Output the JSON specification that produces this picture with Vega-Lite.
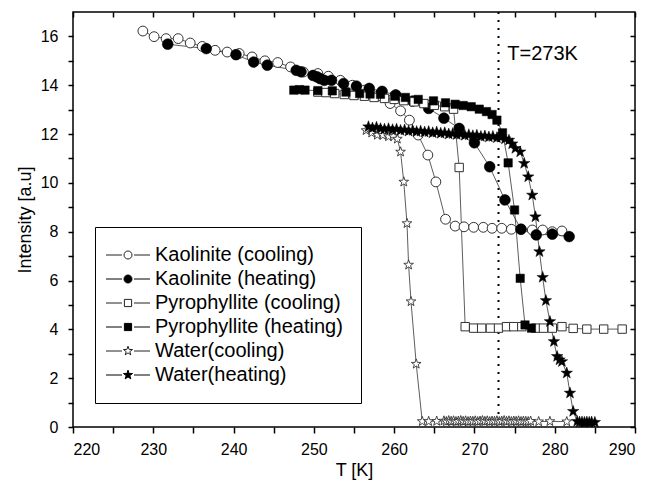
{
  "$schema": "https://vega.github.io/schema/vega-lite/v6.json",
  "width": 562,
  "height": 415,
  "autosize": {"type": "none"},
  "padding": {"left": 73, "top": 12, "right": 15, "bottom": 64},
  "background": "white",
  "config": {
    "font": "Liberation Sans",
    "view": {"stroke": "black", "strokeWidth": 1.5},
    "axis": {"grid": false, "domain": false, "tickColor": "black", "tickWidth": 1.5, "tickSize": 5,
      "labelFont": "Liberation Sans", "labelFontSize": 16, "labelColor": "black",
      "titleFont": "Liberation Sans", "titleFontSize": 18, "titleFontWeight": "normal", "titleColor": "black"}
  },
  "datasets": {
    "d": [
      {"s":"Kaolinite (cooling)","T":228.7,"I":16.22},{"s":"Kaolinite (cooling)","T":230.1,"I":15.99},{"s":"Kaolinite (cooling)","T":231.6,"I":15.91},{"s":"Kaolinite (cooling)","T":233.1,"I":15.91},{"s":"Kaolinite (cooling)","T":234.6,"I":15.73},{"s":"Kaolinite (cooling)","T":236.1,"I":15.59},{"s":"Kaolinite (cooling)","T":237.7,"I":15.43},{"s":"Kaolinite (cooling)","T":239.2,"I":15.36},{"s":"Kaolinite (cooling)","T":240.7,"I":15.30},{"s":"Kaolinite (cooling)","T":242.3,"I":15.16},{"s":"Kaolinite (cooling)","T":243.9,"I":15.00},{"s":"Kaolinite (cooling)","T":245.5,"I":14.93},{"s":"Kaolinite (cooling)","T":247.1,"I":14.75},{"s":"Kaolinite (cooling)","T":248.7,"I":14.54},{"s":"Kaolinite (cooling)","T":250.5,"I":14.48},{"s":"Kaolinite (cooling)","T":251.8,"I":14.37},{"s":"Kaolinite (cooling)","T":253.3,"I":14.2},{"s":"Kaolinite (cooling)","T":254.8,"I":14.0},{"s":"Kaolinite (cooling)","T":256.3,"I":13.8},{"s":"Kaolinite (cooling)","T":257.9,"I":13.55},{"s":"Kaolinite (cooling)","T":259.5,"I":13.25},{"s":"Kaolinite (cooling)","T":260.8,"I":12.95},{"s":"Kaolinite (cooling)","T":261.9,"I":12.57},{"s":"Kaolinite (cooling)","T":263.0,"I":11.96},{"s":"Kaolinite (cooling)","T":264.2,"I":11.14},{"s":"Kaolinite (cooling)","T":265.2,"I":10.04},{"s":"Kaolinite (cooling)","T":266.4,"I":8.51},{"s":"Kaolinite (cooling)","T":267.6,"I":8.23},{"s":"Kaolinite (cooling)","T":268.7,"I":8.20},{"s":"Kaolinite (cooling)","T":269.9,"I":8.18},{"s":"Kaolinite (cooling)","T":271.1,"I":8.18},{"s":"Kaolinite (cooling)","T":272.2,"I":8.14},{"s":"Kaolinite (cooling)","T":273.4,"I":8.14},{"s":"Kaolinite (cooling)","T":274.6,"I":8.10},{"s":"Kaolinite (cooling)","T":275.8,"I":8.10},{"s":"Kaolinite (cooling)","T":277.2,"I":8.07},{"s":"Kaolinite (cooling)","T":278.5,"I":8.07},{"s":"Kaolinite (cooling)","T":279.7,"I":8.00},{"s":"Kaolinite (cooling)","T":280.9,"I":8.03},

      {"s":"Kaolinite (heating)","T":231.8,"I":15.68},{"s":"Kaolinite (heating)","T":236.6,"I":15.50},{"s":"Kaolinite (heating)","T":240.3,"I":15.25},{"s":"Kaolinite (heating)","T":242.5,"I":14.95},{"s":"Kaolinite (heating)","T":244.2,"I":14.82},{"s":"Kaolinite (heating)","T":247.8,"I":14.61},{"s":"Kaolinite (heating)","T":248.4,"I":14.55},{"s":"Kaolinite (heating)","T":249.9,"I":14.40},{"s":"Kaolinite (heating)","T":250.4,"I":14.34},{"s":"Kaolinite (heating)","T":250.8,"I":14.27},{"s":"Kaolinite (heating)","T":251.3,"I":14.20},{"s":"Kaolinite (heating)","T":252.2,"I":14.20},{"s":"Kaolinite (heating)","T":253.7,"I":14.07},{"s":"Kaolinite (heating)","T":255.3,"I":13.96},{"s":"Kaolinite (heating)","T":256.9,"I":13.87},{"s":"Kaolinite (heating)","T":258.5,"I":13.75},{"s":"Kaolinite (heating)","T":260.2,"I":13.6},{"s":"Kaolinite (heating)","T":262.3,"I":13.35},{"s":"Kaolinite (heating)","T":264.3,"I":13.05},{"s":"Kaolinite (heating)","T":266.2,"I":12.65},{"s":"Kaolinite (heating)","T":268.1,"I":12.23},{"s":"Kaolinite (heating)","T":270.0,"I":11.64},{"s":"Kaolinite (heating)","T":271.9,"I":10.66},{"s":"Kaolinite (heating)","T":273.8,"I":9.30},{"s":"Kaolinite (heating)","T":275.8,"I":8.10},{"s":"Kaolinite (heating)","T":277.7,"I":7.87},{"s":"Kaolinite (heating)","T":279.7,"I":7.90},{"s":"Kaolinite (heating)","T":281.8,"I":7.80},

      {"s":"Pyrophyllite (cooling)","T":250.5,"I":13.72},{"s":"Pyrophyllite (cooling)","T":251.5,"I":13.70},{"s":"Pyrophyllite (cooling)","T":252.6,"I":13.66},{"s":"Pyrophyllite (cooling)","T":253.8,"I":13.62},{"s":"Pyrophyllite (cooling)","T":255.0,"I":13.58},{"s":"Pyrophyllite (cooling)","T":256.3,"I":13.55},{"s":"Pyrophyllite (cooling)","T":257.5,"I":13.50},{"s":"Pyrophyllite (cooling)","T":258.8,"I":13.46},{"s":"Pyrophyllite (cooling)","T":260.0,"I":13.42},{"s":"Pyrophyllite (cooling)","T":261.2,"I":13.37},{"s":"Pyrophyllite (cooling)","T":262.5,"I":13.32},{"s":"Pyrophyllite (cooling)","T":263.7,"I":13.25},{"s":"Pyrophyllite (cooling)","T":265.0,"I":13.18},{"s":"Pyrophyllite (cooling)","T":266.3,"I":13.12},{"s":"Pyrophyllite (cooling)","T":267.4,"I":13.02},{"s":"Pyrophyllite (cooling)","T":268.1,"I":10.63},{"s":"Pyrophyllite (cooling)","T":268.85,"I":4.11},{"s":"Pyrophyllite (cooling)","T":269.9,"I":4.05},{"s":"Pyrophyllite (cooling)","T":270.9,"I":4.05},{"s":"Pyrophyllite (cooling)","T":272.0,"I":4.05},{"s":"Pyrophyllite (cooling)","T":273.0,"I":4.05},{"s":"Pyrophyllite (cooling)","T":274.0,"I":4.11},{"s":"Pyrophyllite (cooling)","T":274.9,"I":4.11},{"s":"Pyrophyllite (cooling)","T":275.9,"I":4.11},{"s":"Pyrophyllite (cooling)","T":277.6,"I":4.05},{"s":"Pyrophyllite (cooling)","T":278.6,"I":4.05},{"s":"Pyrophyllite (cooling)","T":279.7,"I":4.05},{"s":"Pyrophyllite (cooling)","T":280.9,"I":4.11},{"s":"Pyrophyllite (cooling)","T":282.3,"I":4.04},{"s":"Pyrophyllite (cooling)","T":284.0,"I":4.01},{"s":"Pyrophyllite (cooling)","T":286.1,"I":4.01},{"s":"Pyrophyllite (cooling)","T":288.4,"I":4.01},

      {"s":"Pyrophyllite (heating)","T":247.5,"I":13.80},{"s":"Pyrophyllite (heating)","T":248.2,"I":13.82},{"s":"Pyrophyllite (heating)","T":248.9,"I":13.80},{"s":"Pyrophyllite (heating)","T":250.5,"I":13.78},{"s":"Pyrophyllite (heating)","T":252.3,"I":13.77},{"s":"Pyrophyllite (heating)","T":254.0,"I":13.72},{"s":"Pyrophyllite (heating)","T":255.7,"I":13.66},{"s":"Pyrophyllite (heating)","T":257.0,"I":13.64},{"s":"Pyrophyllite (heating)","T":258.3,"I":13.63},{"s":"Pyrophyllite (heating)","T":260.1,"I":13.55},{"s":"Pyrophyllite (heating)","T":261.4,"I":13.50},{"s":"Pyrophyllite (heating)","T":263.0,"I":13.42},{"s":"Pyrophyllite (heating)","T":264.9,"I":13.36},{"s":"Pyrophyllite (heating)","T":266.4,"I":13.28},{"s":"Pyrophyllite (heating)","T":267.6,"I":13.22},{"s":"Pyrophyllite (heating)","T":268.6,"I":13.17},{"s":"Pyrophyllite (heating)","T":269.6,"I":13.12},{"s":"Pyrophyllite (heating)","T":270.6,"I":13.02},{"s":"Pyrophyllite (heating)","T":271.5,"I":12.92},{"s":"Pyrophyllite (heating)","T":272.2,"I":12.80},{"s":"Pyrophyllite (heating)","T":272.8,"I":12.57},{"s":"Pyrophyllite (heating)","T":273.5,"I":12.05},{"s":"Pyrophyllite (heating)","T":274.2,"I":10.82},{"s":"Pyrophyllite (heating)","T":275.0,"I":8.89},{"s":"Pyrophyllite (heating)","T":275.7,"I":6.09},{"s":"Pyrophyllite (heating)","T":276.3,"I":4.18},{"s":"Pyrophyllite (heating)","T":277.1,"I":4.05},

      {"s":"Water(cooling)","T":256.5,"I":12.15},{"s":"Water(cooling)","T":257.2,"I":12.05},{"s":"Water(cooling)","T":257.9,"I":11.96},{"s":"Water(cooling)","T":258.6,"I":11.95},{"s":"Water(cooling)","T":259.3,"I":11.9},{"s":"Water(cooling)","T":259.9,"I":11.9},{"s":"Water(cooling)","T":260.4,"I":11.8},{"s":"Water(cooling)","T":260.8,"I":11.27},{"s":"Water(cooling)","T":261.2,"I":10.04},{"s":"Water(cooling)","T":261.6,"I":8.34},{"s":"Water(cooling)","T":261.8,"I":6.64},{"s":"Water(cooling)","T":262.1,"I":5.14},{"s":"Water(cooling)","T":262.75,"I":2.58},{"s":"Water(cooling)","T":263.5,"I":0.23},{"s":"Water(cooling)","T":264.3,"I":0.23},{"s":"Water(cooling)","T":265.3,"I":0.24},{"s":"Water(cooling)","T":266.2,"I":0.25},{"s":"Water(cooling)","T":266.5,"I":0.22},{"s":"Water(cooling)","T":266.8,"I":0.26},{"s":"Water(cooling)","T":267.1,"I":0.23},{"s":"Water(cooling)","T":267.4,"I":0.25},{"s":"Water(cooling)","T":267.7,"I":0.22},{"s":"Water(cooling)","T":268.0,"I":0.24},{"s":"Water(cooling)","T":268.3,"I":0.26},{"s":"Water(cooling)","T":268.6,"I":0.23},{"s":"Water(cooling)","T":268.9,"I":0.25},{"s":"Water(cooling)","T":269.2,"I":0.22},{"s":"Water(cooling)","T":269.5,"I":0.24},{"s":"Water(cooling)","T":269.8,"I":0.23},{"s":"Water(cooling)","T":270.1,"I":0.25},{"s":"Water(cooling)","T":270.4,"I":0.22},{"s":"Water(cooling)","T":270.7,"I":0.24},{"s":"Water(cooling)","T":271.0,"I":0.26},{"s":"Water(cooling)","T":271.3,"I":0.23},{"s":"Water(cooling)","T":271.6,"I":0.25},{"s":"Water(cooling)","T":271.9,"I":0.22},{"s":"Water(cooling)","T":272.2,"I":0.24},{"s":"Water(cooling)","T":272.5,"I":0.23},{"s":"Water(cooling)","T":272.8,"I":0.25},{"s":"Water(cooling)","T":273.1,"I":0.22},{"s":"Water(cooling)","T":273.4,"I":0.24},{"s":"Water(cooling)","T":273.7,"I":0.26},{"s":"Water(cooling)","T":274.0,"I":0.23},{"s":"Water(cooling)","T":274.3,"I":0.25},{"s":"Water(cooling)","T":274.6,"I":0.22},{"s":"Water(cooling)","T":274.9,"I":0.24},{"s":"Water(cooling)","T":275.2,"I":0.23},{"s":"Water(cooling)","T":275.5,"I":0.25},{"s":"Water(cooling)","T":275.8,"I":0.22},{"s":"Water(cooling)","T":276.1,"I":0.24},{"s":"Water(cooling)","T":276.4,"I":0.23},{"s":"Water(cooling)","T":276.7,"I":0.22},{"s":"Water(cooling)","T":277.0,"I":0.24},{"s":"Water(cooling)","T":278.0,"I":0.22},{"s":"Water(cooling)","T":279.4,"I":0.23},{"s":"Water(cooling)","T":281.5,"I":0.22},

      {"s":"Water(heating)","T":256.8,"I":12.30},{"s":"Water(heating)","T":257.3,"I":12.25},{"s":"Water(heating)","T":257.8,"I":12.28},{"s":"Water(heating)","T":258.3,"I":12.22},{"s":"Water(heating)","T":258.8,"I":12.20},{"s":"Water(heating)","T":259.3,"I":12.22},{"s":"Water(heating)","T":259.8,"I":12.18},{"s":"Water(heating)","T":260.3,"I":12.20},{"s":"Water(heating)","T":260.8,"I":12.15},{"s":"Water(heating)","T":261.3,"I":12.17},{"s":"Water(heating)","T":261.8,"I":12.12},{"s":"Water(heating)","T":262.3,"I":12.15},{"s":"Water(heating)","T":262.8,"I":12.10},{"s":"Water(heating)","T":263.3,"I":12.12},{"s":"Water(heating)","T":263.8,"I":12.08},{"s":"Water(heating)","T":264.3,"I":12.10},{"s":"Water(heating)","T":264.8,"I":12.05},{"s":"Water(heating)","T":265.3,"I":12.08},{"s":"Water(heating)","T":265.8,"I":12.03},{"s":"Water(heating)","T":266.3,"I":12.05},{"s":"Water(heating)","T":266.8,"I":12.00},{"s":"Water(heating)","T":267.3,"I":12.02},{"s":"Water(heating)","T":267.8,"I":11.98},{"s":"Water(heating)","T":268.3,"I":12.00},{"s":"Water(heating)","T":268.8,"I":11.95},{"s":"Water(heating)","T":269.3,"I":11.97},{"s":"Water(heating)","T":269.8,"I":11.93},{"s":"Water(heating)","T":270.3,"I":11.95},{"s":"Water(heating)","T":270.8,"I":11.90},{"s":"Water(heating)","T":271.3,"I":11.92},{"s":"Water(heating)","T":271.8,"I":11.88},{"s":"Water(heating)","T":272.3,"I":11.90},{"s":"Water(heating)","T":272.8,"I":11.85},{"s":"Water(heating)","T":273.3,"I":11.87},{"s":"Water(heating)","T":273.8,"I":11.80},{"s":"Water(heating)","T":274.3,"I":11.75},{"s":"Water(heating)","T":274.7,"I":11.60},{"s":"Water(heating)","T":275.1,"I":11.41},{"s":"Water(heating)","T":275.7,"I":11.27},{"s":"Water(heating)","T":276.2,"I":10.80},{"s":"Water(heating)","T":276.7,"I":10.25},{"s":"Water(heating)","T":277.2,"I":9.50},{"s":"Water(heating)","T":277.6,"I":8.61},{"s":"Water(heating)","T":278.1,"I":7.18},{"s":"Water(heating)","T":278.5,"I":6.13},{"s":"Water(heating)","T":278.9,"I":5.18},{"s":"Water(heating)","T":279.4,"I":4.32},{"s":"Water(heating)","T":279.9,"I":3.50},{"s":"Water(heating)","T":280.3,"I":2.89},{"s":"Water(heating)","T":280.6,"I":2.75},{"s":"Water(heating)","T":280.9,"I":2.68},{"s":"Water(heating)","T":281.5,"I":2.21},{"s":"Water(heating)","T":281.9,"I":1.39},{"s":"Water(heating)","T":282.3,"I":0.64},{"s":"Water(heating)","T":282.8,"I":0.23},{"s":"Water(heating)","T":283.1,"I":0.20},{"s":"Water(heating)","T":283.4,"I":0.20},{"s":"Water(heating)","T":283.7,"I":0.19},{"s":"Water(heating)","T":284.0,"I":0.20},{"s":"Water(heating)","T":284.3,"I":0.19},{"s":"Water(heating)","T":284.6,"I":0.20},{"s":"Water(heating)","T":285.0,"I":0.19}
    ],
    "ann": [{"T": 274.1, "I": 15.3, "label": "T=273K"}],
    "ref": [{"T": 273}]
  },
  "layer": [
    {
      "data": {"name": "ref"},
      "mark": {"type": "rule", "color": "black", "strokeWidth": 2, "strokeDash": [2, 6]},
      "encoding": {
        "x": {"field": "T", "type": "quantitative", "scale": {"domain": [220, 290], "nice": false, "zero": false},
          "axis": {"orient": "top", "values": [220, 230, 240, 250, 260, 270, 280, 290], "labels": false, "title": null, "tickSize": -5}}
      }
    },
    {
      "data": {"name": "d"},
      "mark": {"type": "line", "stroke": "#333333", "strokeWidth": 0.8},
      "encoding": {
        "x": {"field": "T", "type": "quantitative", "scale": {"domain": [220, 290], "nice": false, "zero": false},
          "axis": {"orient": "bottom", "values": [220, 230, 240, 250, 260, 270, 280, 290], "title": "T [K]", "tickSize": 6, "labelPadding": 8, "titlePadding": 4}},
        "y": {"field": "I", "type": "quantitative", "scale": {"domain": [0, 17], "nice": false, "zero": false},
          "axis": {"orient": "left", "values": [0, 2, 4, 6, 8, 10, 12, 14, 16], "title": "Intensity [a.u]", "labelPadding": 10, "titlePadding": 6}},
        "detail": {"field": "s", "type": "nominal"}
      }
    },
    {
      "data": {"name": "d"},
      "transform": [{"filter": "datum.s === 'Kaolinite (cooling)'"}],
      "mark": {"type": "point", "filled": true, "fill": "white", "stroke": "#333333", "strokeWidth": 1, "opacity": 1, "size": 144,
        "shape": "M-0.82,0A0.82,0.82,0,1,1,0.82,0A0.82,0.82,0,1,1,-0.82,0Z"},
      "encoding": {
        "x": {"field": "T", "type": "quantitative", "scale": {"domain": [220, 290], "nice": false, "zero": false},
          "axis": {"orient": "bottom", "values": [225, 235, 245, 255, 265, 275, 285], "labels": false, "title": null, "tickSize": 6}},
        "y": {"field": "I", "type": "quantitative", "scale": {"domain": [0, 17], "nice": false, "zero": false},
          "axis": {"orient": "left", "values": [1, 3, 5, 7, 9, 11, 13, 15], "labels": false, "title": null}}
      }
    },
    {
      "data": {"name": "d"},
      "transform": [{"filter": "datum.s === 'Kaolinite (heating)'"}],
      "mark": {"type": "point", "filled": true, "fill": "black", "stroke": "black", "strokeWidth": 0.5, "opacity": 1, "size": 144,
        "shape": "M-0.9,0A0.9,0.9,0,1,1,0.9,0A0.9,0.9,0,1,1,-0.9,0Z"},
      "encoding": {
        "x": {"field": "T", "type": "quantitative", "scale": {"domain": [220, 290], "nice": false, "zero": false}, "axis": null},
        "y": {"field": "I", "type": "quantitative", "scale": {"domain": [0, 17], "nice": false, "zero": false}, "axis": null}
      }
    },
    {
      "data": {"name": "d"},
      "transform": [{"filter": "datum.s === 'Pyrophyllite (cooling)'"}],
      "mark": {"type": "point", "filled": true, "fill": "white", "stroke": "#333333", "strokeWidth": 1, "opacity": 1, "size": 144,
        "shape": "M-0.7,-0.7H0.7V0.7H-0.7Z"},
      "encoding": {
        "x": {"field": "T", "type": "quantitative", "scale": {"domain": [220, 290], "nice": false, "zero": false}, "axis": null},
        "y": {"field": "I", "type": "quantitative", "scale": {"domain": [0, 17], "nice": false, "zero": false}, "axis": null}
      }
    },
    {
      "data": {"name": "d"},
      "transform": [{"filter": "datum.s === 'Pyrophyllite (heating)'"}],
      "mark": {"type": "point", "filled": true, "fill": "black", "stroke": "black", "strokeWidth": 0.5, "opacity": 1, "size": 144,
        "shape": "M-0.7,-0.7H0.7V0.7H-0.7Z"},
      "encoding": {
        "x": {"field": "T", "type": "quantitative", "scale": {"domain": [220, 290], "nice": false, "zero": false}, "axis": null},
        "y": {"field": "I", "type": "quantitative", "scale": {"domain": [0, 17], "nice": false, "zero": false}, "axis": null}
      }
    },
    {
      "data": {"name": "d"},
      "transform": [{"filter": "datum.s === 'Water(cooling)'"}],
      "mark": {"type": "point", "filled": true, "fill": "white", "stroke": "#333333", "strokeWidth": 0.9, "opacity": 1, "size": 144,
        "shape": "M0,-0.85L0.2,-0.275L0.808,-0.263L0.323,0.105L0.5,0.688L0,0.34L-0.5,0.688L-0.323,0.105L-0.808,-0.263L-0.2,-0.275Z"},
      "encoding": {
        "x": {"field": "T", "type": "quantitative", "scale": {"domain": [220, 290], "nice": false, "zero": false}, "axis": null},
        "y": {"field": "I", "type": "quantitative", "scale": {"domain": [0, 17], "nice": false, "zero": false}, "axis": null}
      }
    },
    {
      "data": {"name": "d"},
      "transform": [{"filter": "datum.s === 'Water(heating)'"}],
      "mark": {"type": "point", "filled": true, "fill": "black", "stroke": "black", "strokeWidth": 0.5, "opacity": 1, "size": 144,
        "shape": "M0,-1L0.235,-0.324L0.951,-0.309L0.38,0.124L0.588,0.809L0,0.4L-0.588,0.809L-0.38,0.124L-0.951,-0.309L-0.235,-0.324Z"},
      "encoding": {
        "x": {"field": "T", "type": "quantitative", "scale": {"domain": [220, 290], "nice": false, "zero": false}, "axis": null},
        "y": {"field": "I", "type": "quantitative", "scale": {"domain": [0, 17], "nice": false, "zero": false}, "axis": null}
      }
    },
    {
      "data": {"name": "ann"},
      "mark": {"type": "text", "align": "left", "baseline": "middle", "fontSize": 20, "font": "Liberation Sans", "color": "black"},
      "encoding": {
        "x": {"field": "T", "type": "quantitative", "scale": {"domain": [220, 290], "nice": false, "zero": false},
          "axis": {"orient": "top", "values": [225, 235, 245, 255, 265, 275, 285], "labels": false, "title": null, "tickSize": -5}},
        "y": {"field": "I", "type": "quantitative", "scale": {"domain": [0, 17], "nice": false, "zero": false},
          "axis": {"orient": "right", "values": [0, 2, 4, 6, 8, 10, 12, 14, 16], "labels": false, "title": null, "tickSize": -5}},
        "text": {"field": "label", "type": "nominal"}
      }
    },
    {
      "data": {"name": "d"},
      "transform": [{"filter": "false"}],
      "mark": {"type": "point", "filled": true, "strokeWidth": 1, "opacity": 1},
      "encoding": {
        "x": {"field": "T", "type": "quantitative", "scale": {"domain": [220, 290], "nice": false, "zero": false}, "axis": null},
        "y": {"field": "I", "type": "quantitative", "scale": {"domain": [0, 17], "nice": false, "zero": false},
          "axis": {"orient": "right", "values": [1, 3, 5, 7, 9, 11, 13, 15], "labels": false, "title": null, "tickSize": -5}},
        "shape": {"field": "s", "type": "nominal",
          "scale": {"domain": ["Kaolinite (cooling)", "Kaolinite (heating)", "Pyrophyllite (cooling)", "Pyrophyllite (heating)", "Water(cooling)", "Water(heating)"],
            "range": [
              "M-2.125,0H-0.125M1.375,0H3.375M0.125,0A0.5,0.5,0,1,1,1.125,0A0.5,0.5,0,1,1,0.125,0Z",
              "M-2.125,0H-0.125M1.375,0H3.375M0.125,0A0.5,0.5,0,1,1,1.125,0A0.5,0.5,0,1,1,0.125,0Z",
              "M-2.125,0H-0.125M1.375,0H3.375M0.175,-0.45H1.075V0.45H0.175Z",
              "M-2.125,0H-0.125M1.375,0H3.375M0.175,-0.45H1.075V0.45H0.175Z",
              "M-2.125,0H-0.125M1.375,0H3.375M0.625,-0.6L0.766,-0.195L1.196,-0.186L0.853,0.075L0.978,0.486L0.625,0.24L0.272,0.486L0.397,0.075L0.054,-0.186L0.484,-0.195Z",
              "M-2.125,0H-0.125M1.375,0H3.375M0.625,-0.6L0.766,-0.195L1.196,-0.186L0.853,0.075L0.978,0.486L0.625,0.24L0.272,0.486L0.397,0.075L0.054,-0.186L0.484,-0.195Z"
            ]},
          "legend": {"title": null, "orient": "none", "legendX": 22, "legendY": 215, "symbolSize": 256, "labelFontSize": 20, "labelFont": "Liberation Sans", "labelColor": "black", "labelOffset": 22, "labelLimit": 400, "padding": 18, "rowPadding": 4, "strokeColor": "black", "fillColor": "white", "symbolStrokeWidth": 1}},
        "fill": {"field": "s", "type": "nominal",
          "scale": {"domain": ["Kaolinite (cooling)", "Kaolinite (heating)", "Pyrophyllite (cooling)", "Pyrophyllite (heating)", "Water(cooling)", "Water(heating)"],
            "range": ["white", "black", "white", "black", "white", "black"]},
          "legend": {"title": null, "orient": "none", "legendX": 22, "legendY": 215, "symbolSize": 256, "labelFontSize": 20, "labelFont": "Liberation Sans", "labelColor": "black", "labelOffset": 22, "labelLimit": 400, "padding": 18, "rowPadding": 4, "strokeColor": "black", "fillColor": "white", "symbolStrokeWidth": 1}},
        "stroke": {"field": "s", "type": "nominal",
          "scale": {"domain": ["Kaolinite (cooling)", "Kaolinite (heating)", "Pyrophyllite (cooling)", "Pyrophyllite (heating)", "Water(cooling)", "Water(heating)"],
            "range": ["#222222", "black", "#222222", "black", "#222222", "black"]},
          "legend": {"title": null, "orient": "none", "legendX": 22, "legendY": 215, "symbolSize": 256, "labelFontSize": 20, "labelFont": "Liberation Sans", "labelColor": "black", "labelOffset": 22, "labelLimit": 400, "padding": 18, "rowPadding": 4, "strokeColor": "black", "fillColor": "white", "symbolStrokeWidth": 1}}
      }
    }
  ],
  "resolve": {
    "axis": {"x": "independent", "y": "independent"}
  }
}
